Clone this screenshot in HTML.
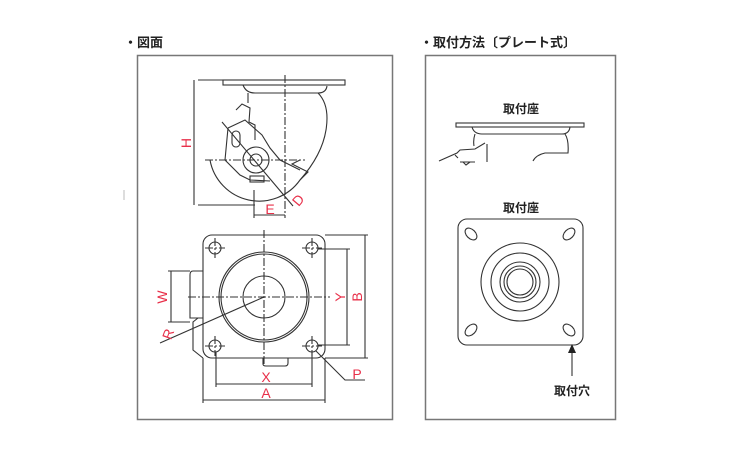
<!DOCTYPE html>
<html><head><meta charset="utf-8"><style>
body{margin:0;background:#fff;width:750px;height:450px;overflow:hidden}
text{font-family:"Liberation Sans","Noto Sans CJK JP",sans-serif}
</style></head><body>
<svg width="750" height="450" viewBox="0 0 750 450" xmlns="http://www.w3.org/2000/svg">
<g font-size="13" font-weight="bold" fill="#222">
<text x="124" y="47">・図面</text>
<text x="420" y="47">・取付方法〔プレート式〕</text>
</g>
<rect x="137.5" y="55.5" width="255" height="364" fill="none" stroke="#777" stroke-width="1.5"/>
<rect x="425.5" y="55.5" width="190" height="364" fill="none" stroke="#777" stroke-width="1.5"/>
<line x1="124" y1="190" x2="124" y2="200" stroke="#bbb"/>
<g fill="none" stroke="#333" stroke-width="1.1">
<rect x="223" y="80" width="122" height="5"/>
<path d="M243 85 Q246 93 255 93 L318 93 Q326 93 327 86"/>
<path d="M248 93 L248 103 M318 93 Q330 105 326 130 Q322 155 300 180"/>
<path d="M236 110 L242 104 L250 108 L249 122 L255 125 L255 140"/>
<path d="M228 128 L245 120 L262 135 L270 148 L280 160 L300 170"/>
<path d="M232 135 a4 4 0 0 1 8 0 l0 8 a4 4 0 0 1 -8 0z"/>
<circle cx="256" cy="160" r="13"/>
<circle cx="256" cy="160" r="6"/>
<path d="M210 160 A50 50 0 0 0 300 180 L308 172 L292 164 L300 160"/>
<path d="M228 128 L225 160 L240 175 L250 180 L270 181"/>
<rect x="250" y="176" width="14" height="6"/>
<line x1="285" y1="75" x2="285" y2="218" stroke-dasharray="8,2,2,2"/>
<line x1="205" y1="160" x2="305" y2="160" stroke-dasharray="8,2,2,2"/>
<line x1="198" y1="80" x2="223" y2="80"/><line x1="198" y1="205" x2="255" y2="205"/>
<line x1="194" y1="80" x2="194" y2="205"/>
<line x1="254" y1="190" x2="254" y2="218"/>
<line x1="254" y1="215" x2="285" y2="215"/>
<line x1="222" y1="122" x2="293" y2="206"/>
<rect x="203" y="235" width="122" height="123" rx="9"/>
<circle cx="215" cy="248" r="6"/><circle cx="312" cy="248" r="6"/>
<circle cx="215" cy="346" r="6"/><circle cx="312" cy="346" r="6"/>
<circle cx="264" cy="297" r="45"/><circle cx="264" cy="297" r="43"/>
<circle cx="264" cy="297" r="21"/>
<path d="M203 271 L193 271 Q190 271 190 275 L190 318 L203 318"/>
<path d="M198 318 L193 322 L193 350 L203 358"/>
<path d="M263 358 L263 364 Q263 366 266 366 L285 366 Q288 366 288 363 L288 358"/>
<g stroke-dasharray="8,2,2,2">
<line x1="264" y1="230" x2="264" y2="365"/>
<line x1="188" y1="297" x2="330" y2="297"/>
<line x1="215" y1="238" x2="215" y2="258"/><line x1="205" y1="248" x2="225" y2="248"/>
<line x1="312" y1="238" x2="312" y2="258"/><line x1="302" y1="248" x2="322" y2="248"/>
<line x1="215" y1="336" x2="215" y2="356"/><line x1="205" y1="346" x2="225" y2="346"/>
<line x1="312" y1="336" x2="312" y2="356"/><line x1="302" y1="346" x2="322" y2="346"/>
</g>
<line x1="325" y1="235" x2="368" y2="235"/><line x1="325" y1="358" x2="368" y2="358"/>
<line x1="365" y1="235" x2="365" y2="358"/>
<line x1="318" y1="249" x2="350" y2="249"/><line x1="318" y1="345" x2="350" y2="345"/>
<line x1="347" y1="249" x2="347" y2="345"/>
<line x1="216" y1="352" x2="216" y2="387"/><line x1="312" y1="352" x2="312" y2="387"/>
<line x1="216" y1="384" x2="312" y2="384"/>
<line x1="203" y1="358" x2="203" y2="403"/><line x1="325" y1="358" x2="325" y2="403"/>
<line x1="203" y1="400" x2="325" y2="400"/>
<line x1="168" y1="271" x2="190" y2="271"/><line x1="168" y1="322" x2="190" y2="322"/>
<line x1="171" y1="271" x2="171" y2="322"/>
<line x1="160" y1="343" x2="264" y2="297"/>
<path d="M316 351 L345 380 L365 380"/>
</g>
<g fill="#e8304a" font-size="14">
<text x="186" y="143" transform="rotate(-90 186 143)" text-anchor="middle" dy="5">H</text>
<text x="270" y="214" text-anchor="middle">E</text>
<text x="298" y="200" transform="rotate(-50 298 200)" text-anchor="middle" dy="5">D</text>
<text x="162" y="297" transform="rotate(-90 162 297)" text-anchor="middle" dy="5">W</text>
<text x="168" y="334" transform="rotate(-70 168 334)" text-anchor="middle" dy="5">R</text>
<text x="340" y="297" transform="rotate(-90 340 297)" text-anchor="middle" dy="5">Y</text>
<text x="357" y="297" transform="rotate(-90 357 297)" text-anchor="middle" dy="5">B</text>
<text x="266" y="382" text-anchor="middle">X</text>
<text x="266" y="398" text-anchor="middle">A</text>
<text x="357" y="379" text-anchor="middle">P</text>
</g>
<g font-size="12" font-weight="bold" fill="#222" text-anchor="middle">
<text x="521" y="113">取付座</text>
<text x="521" y="212">取付座</text>
<text x="572" y="395">取付穴</text>
</g>
<g fill="none" stroke="#333" stroke-width="1.1">
<rect x="456" y="123" width="128" height="4"/>
<path d="M472 127 Q474 134 482 134 L562 134 Q569 134 570 127"/>
<path d="M475 134 Q473 140 474 146 M565 134 Q569 140 568 153 L545 153 Q536 155 533 161"/>
<path d="M439 161 L457 153 L460 150 L475 149 L485 143 M487 144 L487 162 M455 155 L458 158 M460 162 L475 162 M463 162 L466 165 L470 162"/>
<rect x="458" y="219" width="125" height="126" rx="9"/>
<circle cx="520" cy="282" r="39"/><circle cx="520" cy="282" r="29"/>
<circle cx="520" cy="282" r="20"/><circle cx="520" cy="282" r="16"/><circle cx="520" cy="282" r="13"/>
<ellipse cx="471" cy="234" rx="7" ry="4.5" transform="rotate(45 471 234)"/>
<ellipse cx="569" cy="234" rx="7" ry="4.5" transform="rotate(-45 569 234)"/>
<ellipse cx="471" cy="330" rx="7" ry="4.5" transform="rotate(-45 471 330)"/>
<ellipse cx="569" cy="330" rx="7" ry="4.5" transform="rotate(45 569 330)"/>
<line x1="572" y1="352" x2="572" y2="376"/>
</g>
<path d="M572 344 L568 353 L576 353Z" fill="#222"/>
</svg>
</body></html>
